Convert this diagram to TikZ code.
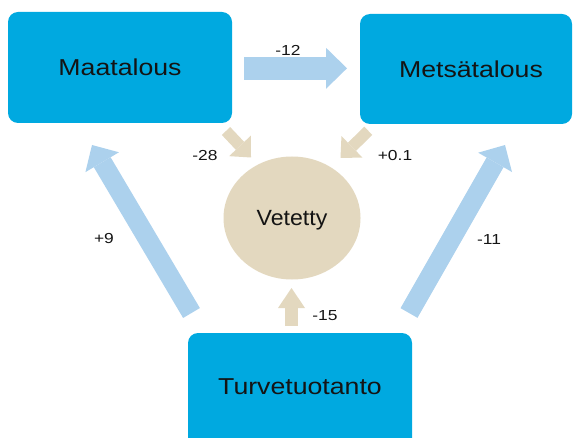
\documentclass[tikz,border=0pt]{standalone}
\usepackage{fontspec}
\usepackage{graphicx}
\setmainfont{Liberation Sans}
\usetikzlibrary{arrows.meta,shapes.geometric}
\definecolor{boxblue}{RGB}{0,169,224}
\definecolor{lightarrow}{RGB}{172,209,237}
\definecolor{tan}{RGB}{227,216,191}
\definecolor{txt}{RGB}{20,20,20}
\newcommand{\hsc}[2]{\scalebox{#1}[1]{#2}}
\tikzset{
  bigbox/.style={fill=boxblue, draw=none, rounded corners=10pt, inner sep=0pt,
    text=txt, font=\fontsize{23}{27}\selectfont, text height=16.5pt, text depth=0pt},
  bluearrow/.style={draw=lightarrow, line width=#1, line cap=butt},
  tanarrow/.style={draw=tan, line width=#1, line cap=butt},
  numlabel/.style={text=txt, font=\fontsize{14.5}{17}\selectfont, inner sep=0pt},
}
\begin{document}
\begin{tikzpicture}[x=1pt,y=-1pt]
\useasboundingbox (0,0) rectangle (577,438);
\clip (0,0) rectangle (577,438);

% nodes
\node[bigbox, minimum width=224pt, minimum height=111pt] (maa) at (120,67.5) {\hsc{1.16}{Maatalous}};
\node[bigbox, minimum width=212pt, minimum height=110pt] (met) at (466,69) {\hspace*{10pt}\hsc{1.16}{Metsätalous}};
\node[bigbox, minimum width=224pt, minimum height=120pt, text depth=14pt] (tur) at (300,393) {\hsc{1.16}{Turvetuotanto}};
\node[ellipse, fill=tan, minimum width=137pt, minimum height=123pt, inner sep=0pt,
  text=txt, font=\fontsize{22}{26}\selectfont, text height=15.7pt, text depth=0pt] (vet) at (292,218) {\hsc{1.05}{Vetetty}};

% arrow end points
\coordinate (a12s) at (244,68.3);   \coordinate (a12e) at (347,68.3);
\coordinate (a9s)  at (191.5,313);  \coordinate (a9e)  at (92,145);
\coordinate (a11s) at (409,313);    \coordinate (a11e) at (505,145);
\coordinate (a28s) at (226,131);    \coordinate (a28e) at (251,157.5);
\coordinate (a01s) at (368.3,130.8);\coordinate (a01e) at (340.5,158);
\coordinate (a15s) at (291.5,326);  \coordinate (a15e) at (291.5,288);

% block arrows
\draw[bluearrow=22.5pt, -{Triangle[length=21pt,width=41pt,line width=0pt]}] (a12s) -- (a12e);
\draw[bluearrow=19.5pt, -{Triangle[length=20pt,width=39pt,line width=0pt]}] (a9s) -- (a9e);
\draw[bluearrow=19.5pt, -{Triangle[length=20pt,width=39pt,line width=0pt]}] (a11s) -- (a11e);
\draw[tanarrow=11.5pt, -{Triangle[length=16pt,width=30pt,line width=0pt]}] (a28s) -- (a28e);
\draw[tanarrow=11.5pt, -{Triangle[length=16pt,width=30pt,line width=0pt]}] (a01s) -- (a01e);
\draw[tanarrow=13pt, -{Triangle[length=20pt,width=27pt,line width=0pt]}] (a15s) -- (a15e);

% labels
\node[numlabel] (l12) at (288,50) {\hsc{1.2}{-12}};
\node[numlabel] (l28) at (205,156) {\hsc{1.2}{-28}};
\node[numlabel] (l01) at (395,156) {\hsc{1.2}{+0.1}};
\node[numlabel] (l15) at (325,316) {\hsc{1.2}{-15}};
\node[numlabel] (l9)  at (104,239) {\hsc{1.2}{+9}};
\node[numlabel] (l11) at (489,240) {\hsc{1.2}{-11}};
\end{tikzpicture}
\end{document}
